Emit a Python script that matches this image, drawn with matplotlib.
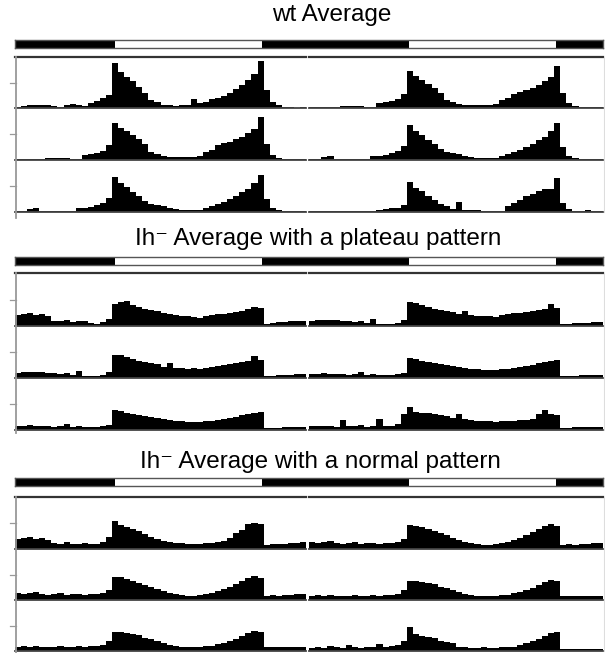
import numpy as np
import matplotlib.pyplot as plt
from matplotlib.lines import Line2D

plt.rcParams['font.family'] = ['Liberation Sans', 'DejaVu Sans']

W, H = 605, 653
hours = np.arange(48) * 0.5  # 30 min bins, one day per list
lights_on, lights_off = 8.2, 20.2

# activity, % of row height; days 1-4, double plotted (row n = day n | day n+1)
wt_days = [
    [1, 3, 6, 6, 5, 6, 4, 2, 6, 7, 5, 3, 9, 13, 20, 26, 88, 70, 60, 52, 42, 30, 16, 12,
     6, 5, 4, 5, 5, 18, 10, 11, 17, 20, 24, 30, 38, 45, 55, 66, 92, 35, 12, 5, 1, 1, 0, 1],
    [1, 1, 1, 1, 2, 3, 4, 4, 3, 2, 2, 9, 11, 14, 17, 28, 72, 62, 55, 48, 40, 30, 16, 12,
     7, 6, 5, 6, 5, 5, 8, 16, 20, 28, 32, 35, 40, 45, 52, 60, 82, 30, 10, 4, 2, 1, 1, 1],
    [1, 1, 5, 7, 2, 1, 1, 1, 1, 1, 7, 8, 10, 13, 17, 26, 68, 55, 48, 38, 30, 22, 15, 13,
     11, 8, 6, 4, 3, 3, 4, 8, 12, 15, 20, 25, 30, 38, 45, 55, 72, 25, 8, 3, 1, 1, 1, 1],
    [1, 1, 1, 1, 1, 1, 1, 1, 1, 1, 1, 3, 6, 8, 8, 13, 58, 46, 40, 30, 24, 15, 12, 5,
     20, 4, 3, 3, 2, 2, 2, 2, 12, 18, 24, 30, 35, 40, 44, 45, 65, 18, 5, 1, 1, 3, 1, 1],
]
plateau_days = [
    [20, 22, 24, 20, 22, 18, 10, 9, 11, 8, 10, 9, 5, 3, 8, 14, 42, 46, 48, 40, 35, 32, 30, 28,
     24, 22, 20, 18, 18, 17, 16, 19, 21, 22, 23, 25, 27, 28, 32, 36, 34, 3, 6, 8, 8, 9, 10, 9],
    [10, 11, 12, 11, 12, 10, 10, 8, 10, 6, 14, 4, 3, 3, 5, 12, 45, 44, 40, 36, 33, 30, 28, 26,
     22, 28, 20, 19, 18, 19, 17, 20, 22, 24, 25, 27, 28, 30, 32, 42, 34, 3, 4, 5, 5, 6, 7, 7],
    [7, 8, 9, 8, 7, 8, 6, 7, 12, 6, 7, 6, 6, 5, 7, 10, 38, 37, 33, 30, 28, 27, 25, 23,
     21, 19, 18, 17, 16, 16, 15, 17, 18, 20, 22, 23, 25, 28, 30, 33, 34, 3, 4, 4, 5, 5, 6, 5],
    [7, 8, 7, 8, 6, 20, 8, 7, 9, 6, 8, 22, 7, 8, 12, 30, 44, 35, 33, 32, 30, 28, 26, 24,
     30, 22, 20, 18, 17, 18, 16, 17, 18, 17, 19, 20, 22, 30, 38, 30, 28, 3, 4, 5, 5, 6, 6, 5],
]
normal_days = [
    [20, 22, 24, 20, 22, 17, 12, 10, 14, 10, 9, 12, 10, 9, 14, 24, 53, 46, 42, 38, 35, 28, 24, 20,
     16, 14, 12, 11, 10, 9, 10, 11, 12, 14, 16, 22, 30, 36, 48, 50, 48, 8, 9, 10, 10, 11, 12, 14],
    [14, 12, 13, 15, 12, 10, 12, 13, 10, 11, 12, 10, 11, 12, 14, 20, 46, 45, 42, 38, 34, 30, 26, 22,
     18, 14, 11, 10, 8, 8, 9, 12, 14, 18, 22, 26, 32, 38, 44, 48, 44, 8, 9, 8, 10, 10, 11, 12],
    [8, 9, 8, 9, 8, 7, 8, 9, 7, 8, 9, 8, 9, 10, 12, 20, 38, 37, 36, 34, 31, 26, 23, 20,
     16, 12, 10, 8, 7, 8, 8, 9, 10, 13, 16, 19, 23, 30, 35, 40, 38, 7, 7, 8, 8, 7, 8, 8],
    [6, 7, 6, 10, 7, 6, 12, 7, 6, 8, 7, 14, 8, 9, 12, 20, 47, 34, 30, 28, 25, 20, 18, 15,
     8, 7, 6, 6, 7, 6, 6, 8, 7, 8, 12, 16, 20, 24, 30, 36, 37, 4, 3, 3, 4, 3, 4, 3],
]

titles = ["wt Average", "Ih\u207b Average with a plateau pattern",
          "Ih\u207b Average with a normal pattern"]
groups = [wt_days, plateau_days, normal_days]

# pixel layout of each block
layout = [
    dict(title=(332, 21), ld=(40, 48), top=57, base=[108, 160, 212], end=218),
    dict(title=(318, 245), ld=(257, 265), top=273, base=[326, 378, 430], end=433),
    dict(title=(320, 468), ld=(478, 486), top=497, base=[549, 600, 651], end=653),
]
X0, XM0, XM1, X1 = 15, 306, 309, 603

fig = plt.figure(figsize=(W / 100, H / 100), dpi=100)


def box(x0, x1, ytop, ybot):
    return fig.add_axes([x0 / W, 1 - ybot / H, (x1 - x0) / W, (ybot - ytop) / H])


def fline(xs, ys, **kw):
    fig.add_artist(Line2D([x / W for x in xs], [1 - y / H for y in ys], **kw))


for days, title, lay in zip(groups, titles, layout):
    fig.text(lay['title'][0] / W, 1 - lay['title'][1] / H, title, ha='center',
             va='baseline', fontsize=17.5)

    # light/dark bar
    ld = box(X0, X1, *lay['ld'])
    ld.set_xlim(0, 48)
    ld.set_ylim(0, 1)
    for a, b in [(0, lights_on), (lights_off, 24 + lights_on), (24 + lights_off, 48)]:
        ld.axvspan(a, b, color='black', lw=0)
    ld.set_xticks([])
    ld.set_yticks([])
    for s in ld.spines.values():
        s.set_color('#555555')
        s.set_linewidth(1.0)

    tops = [lay['top']] + lay['base'][:-1]
    for r in range(3):
        for half, (xa, xb) in enumerate([(X0, XM0), (XM1, X1)]):
            ax = box(xa, xb, tops[r], lay['base'][r])
            vals = days[r + half]
            ax.bar(hours, vals, width=0.5, align='edge', color='black', linewidth=0)
            ax.set_xlim(0, 24)
            ax.set_ylim(0, 100)
            ax.axis('off')
            ax.axhline(0, color='#444444', lw=1.3, clip_on=False)
            if r == 0:
                ax.axhline(100, color='#333333', lw=1.6, clip_on=False)
        mid = (tops[r] + lay['base'][r]) / 2
        fline([10, 15.5], [mid, mid], color='#999999', lw=0.9)

    fline([15.5, 15.5], [lay['top'], lay['end']], color='#999999', lw=1.3)
    fline([604, 604], [lay['top'], lay['base'][-1]], color='#dddddd', lw=0.8)

fig.savefig('out.png', dpi=100)
